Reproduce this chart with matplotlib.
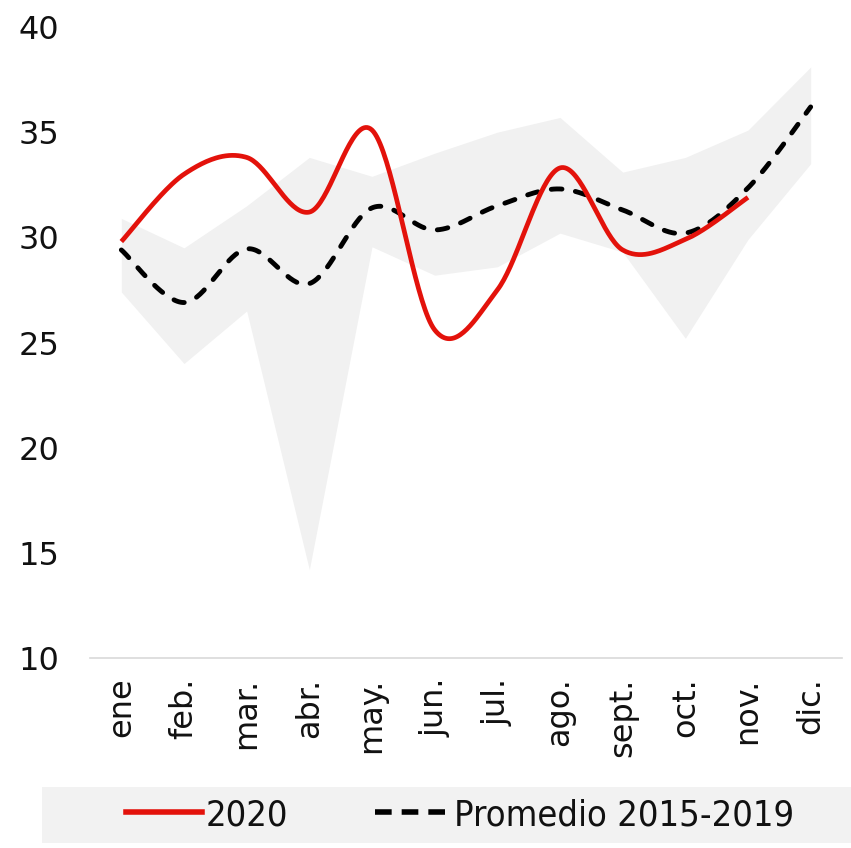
import numpy as np
import matplotlib
matplotlib.use("Agg")
import matplotlib.pyplot as plt
from matplotlib.patches import Rectangle
from matplotlib.lines import Line2D

months = ["ene", "feb.", "mar.", "abr.", "may.", "jun.", "jul.", "ago.", "sept.", "oct.", "nov.", "dic."]
serie_2020 = [29.8, 33.0, 33.8, 31.2, 35.1, 25.6, 27.5, 33.3, 29.4, 29.9, 31.9]
promedio = [29.4, 26.9, 29.45, 27.8, 31.4, 30.35, 31.5, 32.3, 31.3, 30.2, 32.35, 36.2]
rango_max = [30.9, 29.5, 31.5, 33.8, 32.9, 34.0, 35.0, 35.7, 33.1, 33.8, 35.1, 38.1]
rango_min = [27.4, 24.0, 26.5, 14.2, 29.55, 28.2, 28.6, 30.2, 29.3, 25.2, 29.9, 33.5]
yticks = [10, 15, 20, 25, 30, 35, 40]


def smooth(xs, ys, n=40):
    p = np.column_stack([xs, ys]).astype(float)
    ext = np.vstack([p[0], p, p[-1]])
    out = []
    for i in range(len(p) - 1):
        p0, p1, p2, p3 = ext[i], ext[i + 1], ext[i + 2], ext[i + 3]
        b1 = p1 + (p2 - p0) / 6.0
        b2 = p2 - (p3 - p1) / 6.0
        t = np.linspace(0, 1, n)[:, None]
        seg = ((1 - t) ** 3) * p1 + 3 * ((1 - t) ** 2) * t * b1 + 3 * (1 - t) * t ** 2 * b2 + t ** 3 * p2
        out.append(seg if i == 0 else seg[1:])
    s = np.vstack(out)
    return s[:, 0], s[:, 1]


fig = plt.figure(figsize=(8.51, 8.48), dpi=100)
ax = fig.add_axes([90 / 851, 190 / 848, 752 / 851, 631 / 848])

x_all = np.arange(len(months))
ax.fill_between(x_all, rango_min, rango_max, color="#f1f1f1", linewidth=0, zorder=1)

xr, yr = smooth(np.arange(len(serie_2020)), serie_2020)
ax.plot(xr, yr, color="#e3120b", lw=3.4, solid_capstyle="butt", zorder=3)

xp, yp = smooth(x_all, promedio)
ax.plot(xp, yp, color="black", lw=3.5, linestyle=(0, (2.2, 2.8)), dash_capstyle="round", zorder=2)

ax.set_xlim(-0.5, 11.5)
ax.set_ylim(10, 40)
ax.set_yticks(yticks)
ax.set_xticks(x_all)
ax.set_xticklabels(months, rotation=90)
for s in ["top", "right", "left"]:
    ax.spines[s].set_visible(False)
ax.spines["bottom"].set_color("#d9d9d9")
ax.spines["bottom"].set_linewidth(1.2)
ax.tick_params(axis="y", length=0, pad=22, labelsize=23, labelcolor="#111111")
ax.tick_params(axis="x", length=0, pad=14, labelsize=23, labelcolor="#111111")

fig.patches.append(Rectangle((42 / 851, 5 / 848), 809 / 851, 56 / 848, transform=fig.transFigure,
                             facecolor="#f2f2f2", edgecolor="none", zorder=0))
handles = [Line2D([], [], color="#e3120b", lw=4),
           Line2D([], [], color="black", lw=4, linestyle=(0, (3.0, 1.8)))]
leg = fig.legend(handles, ["2020", "Promedio 2015-2019"], loc="center", bbox_to_anchor=(460 / 851, 33 / 848),
                 ncol=2, frameon=False, handlelength=2.1, handletextpad=0.1, columnspacing=2.4,
                 prop={"family": "DejaVu Sans", "stretch": "condensed", "size": 26})
for t in leg.get_texts():
    t.set_color("#111111")

fig.savefig("out.png", dpi=100)
